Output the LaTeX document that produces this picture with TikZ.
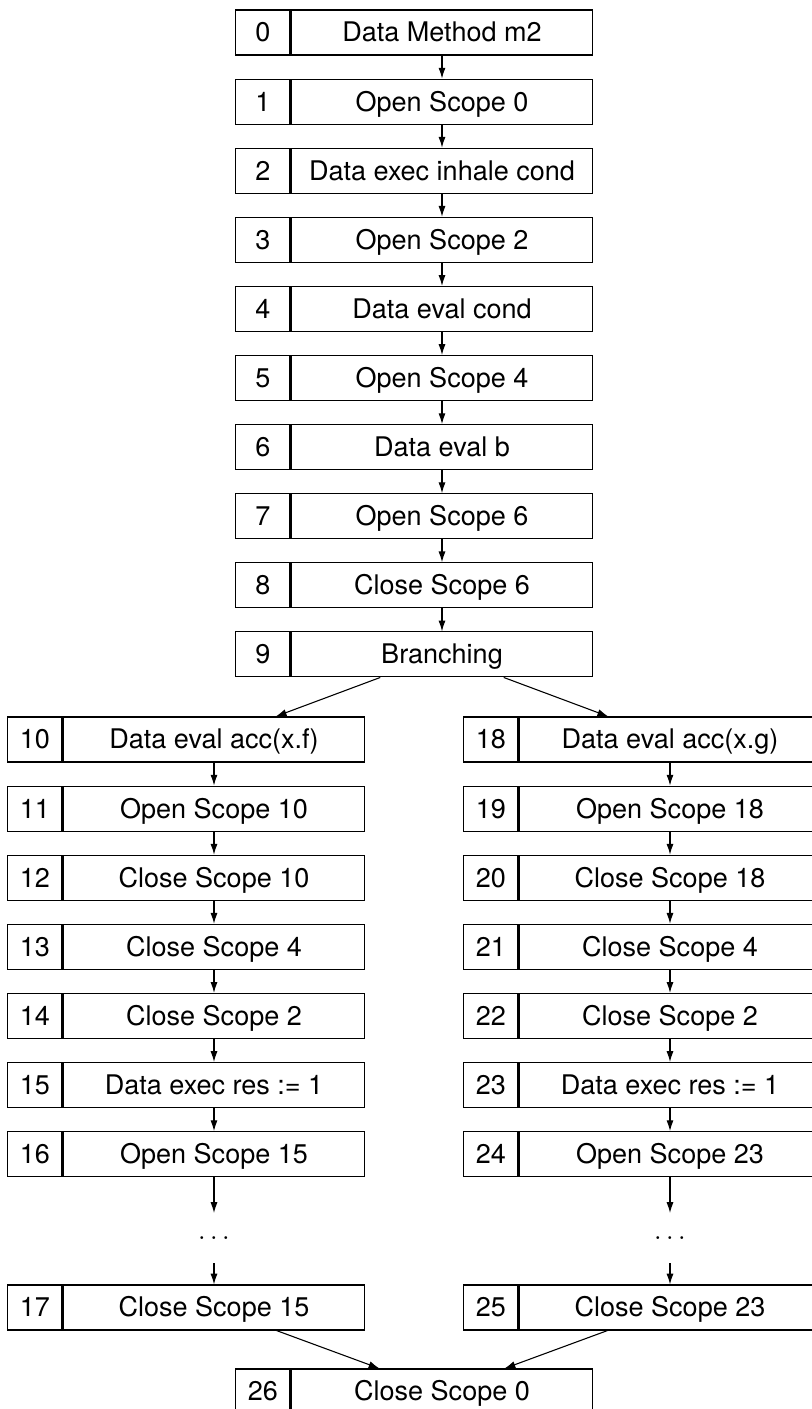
\documentclass[tikz,border=0pt]{standalone}
\usepackage{fontspec}
\setmainfont{TeX Gyre Heros}
\usetikzlibrary{arrows.meta}

\begin{document}
\begin{tikzpicture}[x=0.37pt, y=-0.37pt,
        paso/.style={draw, minimum width=111.7pt, minimum height=16.65pt, inner sep=0pt, text height=7pt, text depth=0pt},
        num/.style={draw, minimum width=20pt, minimum height=16.65pt, inner sep=0pt, text height=7pt, text depth=0pt, anchor=east},
        puntos/.style={minimum height=18.1pt, inner sep=0pt},
        flecha/.style={-{Latex[length=4pt,width=2.6pt]}}]
    \useasboundingbox (0,0) rectangle (812,1409);

    % Tronco comun
    \node[paso] (n0) at (442,32.5) {Data Method m2};
    \node[num] (i0) at (n0.west) {0};
    \node[paso] (n1) at (442,101.6) {Open Scope 0};
    \node[num] (i1) at (n1.west) {1};
    \node[paso] (n2) at (442,170.7) {Data exec inhale cond};
    \node[num] (i2) at (n2.west) {2};
    \node[paso] (n3) at (442,239.8) {Open Scope 2};
    \node[num] (i3) at (n3.west) {3};
    \node[paso] (n4) at (442,308.9) {Data eval cond};
    \node[num] (i4) at (n4.west) {4};
    \node[paso] (n5) at (442,378.0) {Open Scope 4};
    \node[num] (i5) at (n5.west) {5};
    \node[paso] (n6) at (442,447.1) {Data eval b};
    \node[num] (i6) at (n6.west) {6};
    \node[paso] (n7) at (442,516.2) {Open Scope 6};
    \node[num] (i7) at (n7.west) {7};
    \node[paso] (n8) at (442,585.3) {Close Scope 6};
    \node[num] (i8) at (n8.west) {8};
    \node[paso] (n9) at (442,654.4) {Branching};
    \node[num] (i9) at (n9.west) {9};

    % Rama izquierda
    \node[paso] (n10) at (214,739.5) {Data eval acc(x.f)};
    \node[num] (i10) at (n10.west) {10};
    \node[paso] (n11) at (214,808.6) {Open Scope 10};
    \node[num] (i11) at (n11.west) {11};
    \node[paso] (n12) at (214,877.7) {Close Scope 10};
    \node[num] (i12) at (n12.west) {12};
    \node[paso] (n13) at (214,946.8) {Close Scope 4};
    \node[num] (i13) at (n13.west) {13};
    \node[paso] (n14) at (214,1015.9) {Close Scope 2};
    \node[num] (i14) at (n14.west) {14};
    \node[paso] (n15) at (214,1085.0) {Data exec res := 1};
    \node[num] (i15) at (n15.west) {15};
    \node[paso] (n16) at (214,1154.1) {Open Scope 15};
    \node[num] (i16) at (n16.west) {16};
    \node[puntos] (dotsL) at (214,1238) {$\ldots$};
    \node[paso] (n17) at (214,1307.5) {Close Scope 15};
    \node[num] (i17) at (n17.west) {17};

    % Rama derecha
    \node[paso] (n18) at (670,739.5) {Data eval acc(x.g)};
    \node[num] (i18) at (n18.west) {18};
    \node[paso] (n19) at (670,808.6) {Open Scope 18};
    \node[num] (i19) at (n19.west) {19};
    \node[paso] (n20) at (670,877.7) {Close Scope 18};
    \node[num] (i20) at (n20.west) {20};
    \node[paso] (n21) at (670,946.8) {Close Scope 4};
    \node[num] (i21) at (n21.west) {21};
    \node[paso] (n22) at (670,1015.9) {Close Scope 2};
    \node[num] (i22) at (n22.west) {22};
    \node[paso] (n23) at (670,1085.0) {Data exec res := 1};
    \node[num] (i23) at (n23.west) {23};
    \node[paso] (n24) at (670,1154.1) {Open Scope 23};
    \node[num] (i24) at (n24.west) {24};
    \node[puntos] (dotsR) at (670,1238) {$\ldots$};
    \node[paso] (n25) at (670,1307.5) {Close Scope 23};
    \node[num] (i25) at (n25.west) {25};

    % Union final
    \node[paso] (n26) at (442,1391.5) {Close Scope 0};
    \node[num] (i26) at (n26.west) {26};

    % Flechas del tronco
    \draw[flecha] (n0) -- (n1);
    \draw[flecha] (n1) -- (n2);
    \draw[flecha] (n2) -- (n3);
    \draw[flecha] (n3) -- (n4);
    \draw[flecha] (n4) -- (n5);
    \draw[flecha] (n5) -- (n6);
    \draw[flecha] (n6) -- (n7);
    \draw[flecha] (n7) -- (n8);
    \draw[flecha] (n8) -- (n9);
    \draw[flecha] (n9) -- (n10);
    \draw[flecha] (n9) -- (n18);

    % Flechas de las ramas
    \draw[flecha] (n10) -- (n11);
    \draw[flecha] (n11) -- (n12);
    \draw[flecha] (n12) -- (n13);
    \draw[flecha] (n13) -- (n14);
    \draw[flecha] (n14) -- (n15);
    \draw[flecha] (n15) -- (n16);
    \draw[flecha] (n16) -- (dotsL);
    \draw[flecha] (dotsL) -- (n17);
    \draw[flecha] (n18) -- (n19);
    \draw[flecha] (n19) -- (n20);
    \draw[flecha] (n20) -- (n21);
    \draw[flecha] (n21) -- (n22);
    \draw[flecha] (n22) -- (n23);
    \draw[flecha] (n23) -- (n24);
    \draw[flecha] (n24) -- (dotsR);
    \draw[flecha] (dotsR) -- (n25);
    \draw[flecha] (n17) -- (n26);
    \draw[flecha] (n25) -- (n26);
\end{tikzpicture}
\end{document}
